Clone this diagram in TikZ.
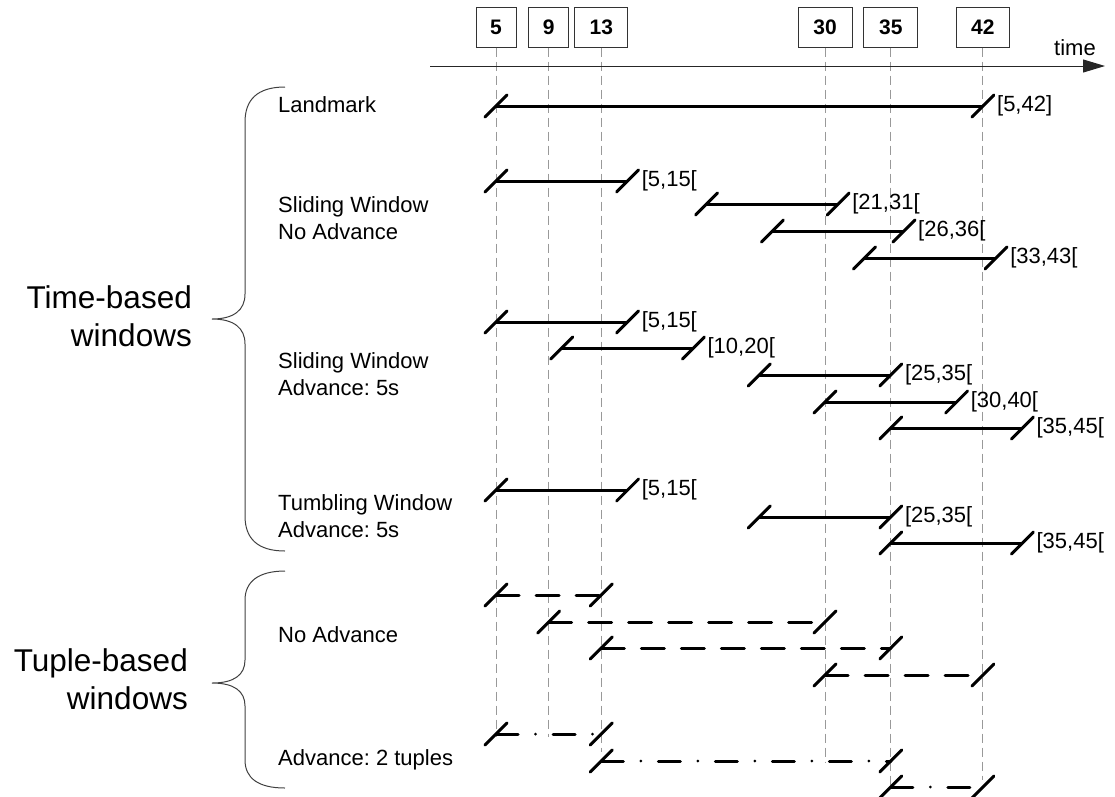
\documentclass[tikz,border=0pt]{standalone}
\usepackage{fontspec}
\setmainfont{Liberation Sans}
\usetikzlibrary{arrows.meta}
\frenchspacing
\newcommand\winbar[5]{% name, t1, t2, y, style
  \coordinate (#1s) at ({430.2+13.16*#2},#4);
  \coordinate (#1e) at ({430.2+13.16*#3},#4);
  \draw[#5] (#1s) -- (#1e);
  \draw[slashmark] ([shift={(-11,11)}]#1s) -- ([shift={(11,-11)}]#1s);
  \draw[slashmark] ([shift={(-11,11)}]#1e) -- ([shift={(11,-11)}]#1e);
}
\begin{document}
\begin{tikzpicture}[x=1pt,y=-1pt,
  tbox/.style={draw=black!80,line width=1pt,minimum height=40pt,inner sep=0pt,font=\fontsize{21}{25}\selectfont\bfseries},
  vline/.style={draw=black!40,line width=1pt,dash pattern=on 9pt off 5pt},
  solidbar/.style={line width=3pt},
  dashbar/.style={line width=3pt,line cap=round,dash pattern=on 23pt off 17pt},
  dotbar/.style={line width=3pt,line cap=round,dash pattern=on 22pt off 17.5pt on 0pt off 17.5pt},
  slashmark/.style={line width=3pt,line cap=round},
  wlabel/.style={anchor=west,inner sep=0pt,font=\fontsize{22}{27}\selectfont},
  rowlabel/.style={anchor=west,inner sep=0pt,align=left,font=\fontsize{22}{27}\selectfont},
  biglabel/.style={anchor=east,inner sep=0pt,align=right,font=\fontsize{31.5}{38}\selectfont},
  brace/.style={draw=black!75,line width=1pt}
]
\useasboundingbox (0,0) rectangle (1115,796);

% time boxes
\node[tbox,minimum width=40pt] (b5)  at (496,27) {5};
\node[tbox,minimum width=40pt] (b9)  at (548.6,27) {9};
\node[tbox,minimum width=53pt] (b13) at (601.3,27) {13};
\node[tbox,minimum width=54pt] (b30) at (825,27) {30};
\node[tbox,minimum width=54pt] (b35) at (890.8,27) {35};
\node[tbox,minimum width=53pt] (b42) at (982.9,27) {42};

% vertical guide lines
\coordinate (v5) at (496,737);
\coordinate (v9) at (548.6,737);
\coordinate (v13) at (601.3,752);
\coordinate (v30) at (825,763);
\coordinate (v35) at (890.8,787);
\coordinate (v42) at (982.9,780);
\draw[vline] (b5.south) -- (v5);
\draw[vline] (b9.south) -- (v9);
\draw[vline] (b13.south) -- (v13);
\draw[vline] (b30.south) -- (v30);
\draw[vline] (b35.south) -- (v35);
\draw[vline] (b42.south) -- (v42);

% time axis
\coordinate (axs) at (430,66);
\coordinate (axe) at (1105,66);
\draw[draw=black!85,line width=1pt,-{Triangle[length=22pt,width=13pt]}] (axs) -- (axe);
\node[wlabel,anchor=center] (tl) at (1075,48) {time};

% landmark
\winbar{r1}{5}{42}{106}{solidbar}
\node[wlabel] (l1) at ([xshift=14pt]r1e) {[5,42]};

% sliding no advance
\winbar{r2}{5}{15}{181}{solidbar}
\node[wlabel] (l2) at ([xshift=14pt]r2e) {[5,15[};
\winbar{r3}{21}{31}{204}{solidbar}
\node[wlabel] (l3) at ([xshift=14pt]r3e) {[21,31[};
\winbar{r4}{26}{36}{231}{solidbar}
\node[wlabel] (l4) at ([xshift=14pt]r4e) {[26,36[};
\winbar{r5}{33}{43}{258}{solidbar}
\node[wlabel] (l5) at ([xshift=14pt]r5e) {[33,43[};

% sliding advance 5s
\winbar{r6}{5}{15}{322}{solidbar}
\node[wlabel] (l6) at ([xshift=14pt]r6e) {[5,15[};
\winbar{r7}{10}{20}{348}{solidbar}
\node[wlabel] (l7) at ([xshift=14pt]r7e) {[10,20[};
\winbar{r8}{25}{35}{375}{solidbar}
\node[wlabel] (l8) at ([xshift=14pt]r8e) {[25,35[};
\winbar{r9}{30}{40}{402}{solidbar}
\node[wlabel] (l9) at ([xshift=14pt]r9e) {[30,40[};
\winbar{r10}{35}{45}{428}{solidbar}
\node[wlabel] (l10) at ([xshift=14pt]r10e) {[35,45[};

% tumbling
\winbar{r11}{5}{15}{490}{solidbar}
\node[wlabel] (l11) at ([xshift=14pt]r11e) {[5,15[};
\winbar{r12}{25}{35}{517}{solidbar}
\node[wlabel] (l12) at ([xshift=14pt]r12e) {[25,35[};
\winbar{r13}{35}{45}{543}{solidbar}
\node[wlabel] (l13) at ([xshift=14pt]r13e) {[35,45[};

% tuple based, no advance
\winbar{r14}{5}{13}{595}{dashbar}
\winbar{r15}{9}{30}{622}{dashbar}
\winbar{r16}{13}{35}{648}{dashbar}
\winbar{r17}{30}{42}{675}{dashbar}

% tuple based, advance 2 tuples
\winbar{r18}{5}{13}{734}{dotbar}
\winbar{r19}{13}{35}{761}{dotbar}
\winbar{r20}{35}{42}{787}{dotbar}

% row labels
\node[rowlabel] (n1) at (278,105) {Landmark};
\node[rowlabel] (n2) at (278,218.5) {Sliding Window\\No Advance};
\node[rowlabel] (n3) at (278,374) {Sliding Window\\Advance: 5s};
\node[rowlabel] (n4) at (278,516) {Tumbling Window\\Advance: 5s};
\node[rowlabel] (n5) at (278,635) {No Advance};
\node[rowlabel] (n6) at (278,760) {Advance: 2 tuples};

% group labels
\node[biglabel] (g1) at (192,316) {Time-based\\windows};
\node[biglabel] (g2) at (188,679) {Tuple-based\\windows};

% braces
\draw[brace] (285,87) .. controls (257,87) and (245,100) .. (245,122) -- (245,294)
  .. controls (245,310) and (234,319) .. (212,319)
  .. controls (234,319) and (245,328) .. (245,344) -- (245,516)
  .. controls (245,538) and (257,551) .. (285,551);
\draw[brace] (285,571) .. controls (258,571) and (245,582) .. (245,600) -- (245,660)
  .. controls (245,675) and (234,683) .. (212,683)
  .. controls (234,683) and (245,691) .. (245,706) -- (245,760)
  .. controls (245,778) and (258,788) .. (285,788);
\end{tikzpicture}
\end{document}
